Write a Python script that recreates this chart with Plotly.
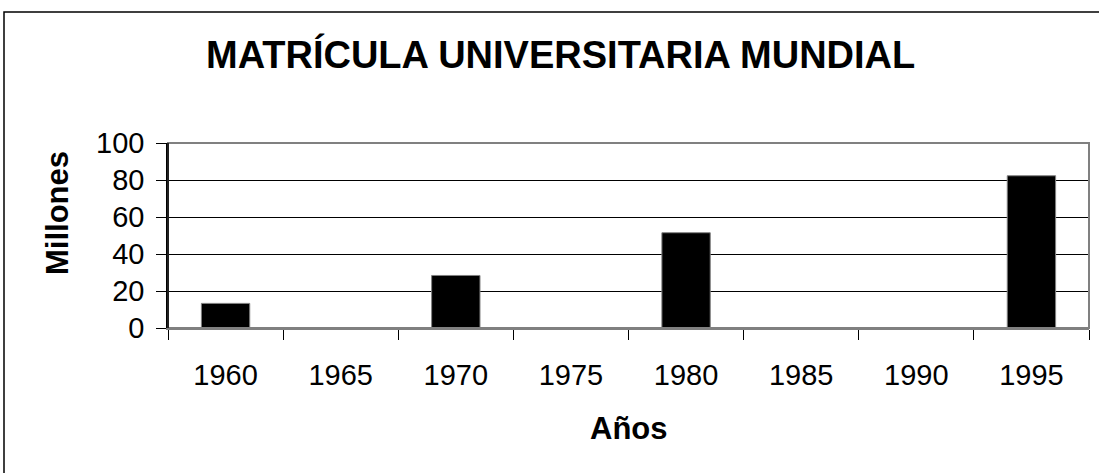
import plotly.graph_objects as go

years = ["1960", "1965", "1970", "1975", "1980", "1985", "1990", "1995"]
enrollment = [13.3, None, 28.4, None, 51.5, None, None, 82.3]
y_ticks = [0, 20, 40, 60, 80, 100]

W, H = 1099, 473
L, R, T, B = 168, 1089, 143, 328
pw, ph = R - L, B - T

def px(x):
    return (x - L) / pw

def py(y):
    return (B - y) / ph

FONT = "Liberation Sans, Arial, sans-serif"

fig = go.Figure()
fig.add_trace(go.Bar(
    x=years, y=enrollment,
    marker=dict(color="black", line=dict(color="#808080", width=1)),
    showlegend=False,
))

fig.update_layout(
    width=W, height=H,
    margin=dict(l=L, r=W - R, t=T, b=H - B, pad=0),
    paper_bgcolor="white", plot_bgcolor="white",
    bargap=0.58,
    font=dict(family=FONT, color="black"),
    xaxis=dict(
        type="category", categoryorder="array", categoryarray=years,
        showgrid=False, zeroline=False,
        showline=True, linecolor="#808080", linewidth=2,
        ticks="outside", tickson="boundaries", ticklen=10, tickcolor="black", tickwidth=1,
        tickfont=dict(size=29, family=FONT, color="black"),
        ticklabelstandoff=20,
    ),
    yaxis=dict(
        range=[0, 100], tickvals=y_ticks,
        showgrid=True, gridcolor="black", gridwidth=1,
        zeroline=False,
        showline=True, linecolor="black", linewidth=1.5,
        ticks="outside", ticklen=10, tickcolor="black", tickwidth=1,
        tickfont=dict(size=29, family=FONT, color="black"),
        ticklabelstandoff=6,
    ),
    shapes=[
        # plot area border (gray)
        dict(type="rect", xref="paper", yref="paper", x0=0, x1=1, y0=0, y1=1,
             line=dict(color="#808080", width=2), layer="above"),
        dict(type="line", xref="paper", yref="paper", x0=0, x1=0, y0=0, y1=1,
             line=dict(color="black", width=1.5), layer="above"),
        # outer chart border
        dict(type="rect", xref="paper", yref="paper",
             x0=px(4), x1=px(1110), y0=py(490), y1=py(12),
             line=dict(color="black", width=1.5), layer="above"),
    ],
    annotations=[
        dict(text="<b>MATRÍCULA UNIVERSITARIA MUNDIAL</b>", xref="paper", yref="paper",
             x=px(560), y=py(54), xanchor="center", yanchor="middle", showarrow=False,
             font=dict(size=38, family=FONT, color="black")),
        dict(text="<b>Años</b>", xref="paper", yref="paper",
             x=px(629), y=py(428), xanchor="center", yanchor="middle", showarrow=False,
             font=dict(size=31, family=FONT, color="black")),
        dict(text="<b>Millones</b>", xref="paper", yref="paper",
             x=px(57), y=py(213), xanchor="center", yanchor="middle", showarrow=False,
             textangle=-90, font=dict(size=31, family=FONT, color="black")),
    ],
)

fig.write_html(
    "out.html",
    config={"displayModeBar": False},
    post_script="document.body.style.margin='0';document.body.style.overflow='hidden';",
)
